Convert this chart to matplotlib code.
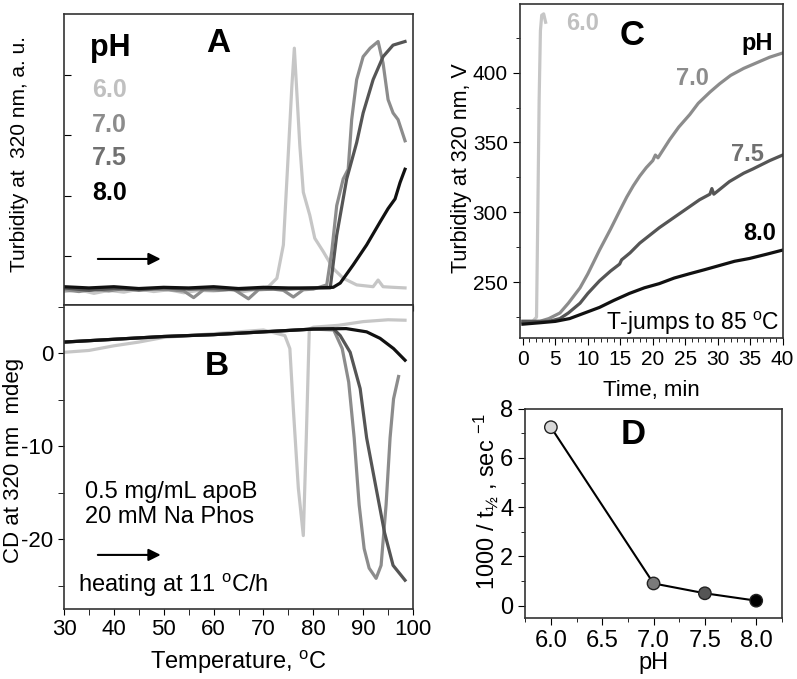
import numpy as np
import matplotlib
matplotlib.use("Agg")
import matplotlib.pyplot as plt
from matplotlib.ticker import MultipleLocator, FormatStrFormatter

plt.rcParams['font.family'] = ['Liberation Sans', 'DejaVu Sans']
plt.rcParams['mathtext.fontset'] = 'custom'
plt.rcParams['mathtext.rm'] = 'Liberation Sans'
plt.rcParams['mathtext.it'] = 'Liberation Sans:italic'
plt.rcParams['mathtext.bf'] = 'Liberation Sans:bold'
plt.rcParams['axes.unicode_minus'] = False

# colours per pH
ph_labels = ['6.0', '7.0', '7.5', '8.0']
line_colors = ['#c6c6c6', '#8c8c8c', '#555555', '#111111']
text_colors = ['#c0c0c0', '#8c8c8c', '#707070', '#000000']

# --- panel A: turbidity on heating (a.u.) ---
tA_60 = [30, 33, 36, 39, 42, 45, 48, 51, 54, 57, 60, 63, 66, 69, 71, 72.7, 74, 75,
         75.7, 76.2, 77.3, 78, 79.3, 80.3, 82, 84, 86, 88.7, 92, 93, 94, 96, 98.4]
A_60 = [0.42, 0.45, 0.39, 0.44, 0.41, 0.46, 0.42, 0.45, 0.40, 0.44, 0.43, 0.45, 0.42,
        0.46, 0.5, 0.64, 1.19, 2.72, 3.81, 4.44, 2.83, 2.06, 1.68, 1.3, 1.08, 0.8,
        0.64, 0.53, 0.5, 0.61, 0.5, 0.49, 0.48]
tA_70 = [30, 33, 36, 39, 42, 45, 48, 51, 54, 56, 58, 61, 64, 67, 69, 72, 74, 76, 78,
         80, 82.7, 83.7, 84.7, 86, 87, 87.7, 88.7, 90, 91.4, 93, 94, 95, 96, 97, 98.4]
A_70 = [0.45, 0.42, 0.46, 0.43, 0.47, 0.44, 0.46, 0.45, 0.43, 0.32, 0.45, 0.44, 0.46,
        0.3, 0.45, 0.46, 0.44, 0.33, 0.45, 0.46, 0.53, 1.08, 1.84, 2.28, 2.44, 3.26,
        3.92, 4.3, 4.44, 4.55, 4.19, 3.59, 3.37, 3.26, 2.91]
tA_75 = [30, 35, 40, 45, 50, 55, 60, 65, 70, 75, 80, 83.4, 84.7, 86.7, 88.7, 90, 92,
         94, 96, 98.4]
A_75 = [0.48, 0.44, 0.47, 0.45, 0.48, 0.46, 0.47, 0.45, 0.47, 0.46, 0.48, 0.48, 1.35,
        2.28, 2.88, 3.37, 3.92, 4.3, 4.49, 4.55]
tA_80 = [30, 35, 40, 45, 50, 55, 60, 65, 70, 75, 80, 84, 85.4, 88, 90.7, 93.4, 95,
         96.4, 97.4, 98.4]
A_80 = [0.5, 0.48, 0.5, 0.47, 0.49, 0.48, 0.5, 0.47, 0.49, 0.48, 0.48, 0.49, 0.56,
        0.86, 1.19, 1.57, 1.79, 1.95, 2.22, 2.44]

# --- panel B: CD at 320 nm (mdeg) ---
tB_60 = [30, 35, 40, 45, 50, 55, 60, 65, 70, 74.3, 75.3, 76, 77, 78, 78.6, 79.2,
         80, 85, 90, 95, 98.4]
B_60 = [0.1, 0.3, 0.8, 1.2, 1.7, 1.9, 2.1, 2.3, 2.5, 1.9, 0.5, -6, -14.5, -19.6,
        -9, 2.6, 2.8, 3.0, 3.4, 3.6, 3.55]
tB_70 = [30, 40, 50, 60, 70, 80, 84.1, 85.8, 87.1, 88.2, 89.2, 90.2, 91.2, 92.6,
         93.6, 94.6, 95.4, 96.1, 97.1]
B_70 = [1.2, 1.5, 1.8, 2.0, 2.3, 2.6, 2.5, 0.5, -3.1, -9.1, -16.3, -21, -23.1, -24.2,
        -22.8, -16.3, -9.1, -4.9, -2.5]
tB_75 = [30, 40, 50, 60, 70, 80, 84, 85.4, 87.4, 89.4, 90.7, 92.6, 94.3, 96, 98.4]
B_75 = [1.2, 1.5, 1.8, 2.0, 2.3, 2.6, 2.65, 1.9, 0.1, -3.8, -9.1, -14.5, -19.3, -22.8,
        -24.4]
tB_80 = [30, 40, 50, 60, 70, 80, 86.6, 90.7, 93.4, 96.1, 98.4]
B_80 = [1.2, 1.5, 1.8, 2.0, 2.3, 2.6, 2.65, 2.3, 1.6, 0.5, -0.75]

# --- panel C: T-jump kinetics at 85 C ---
tC_60 = [0, 1.5, 2.1, 2.3, 2.5, 2.7, 2.9, 3.2, 3.5]
C_60 = [222, 222, 225, 300, 380, 430, 441, 442, 436]
tC_70 = [0, 2.6, 4, 5.7, 7, 8.8, 10, 11.8, 13.5, 14.9, 16, 17, 18, 19, 20, 20.4,
         20.8, 22.6, 24, 25.7, 27, 28.8, 30.3, 32, 34, 36.5, 38, 40]
C_70 = [222, 222, 224, 228, 235, 246, 256, 273, 288, 301, 311, 319, 326, 332, 337,
        341, 339, 352, 361, 370, 378, 386, 392, 398, 403, 408, 411, 414]
tC_75 = [0, 2.6, 4, 5.7, 7, 8.8, 10, 11.8, 13.5, 14.9, 15.2, 16.5, 18, 21, 24.1,
         27.2, 28.8, 29.1, 29.4, 31.8, 34, 35.4, 38, 40]
C_75 = [222, 222, 222, 224, 228, 235, 242, 251, 258, 263, 266, 271, 278, 289, 299,
        309, 313, 317, 313, 322, 328, 331, 337, 341]
tC_80 = [0, 2.6, 5, 7.2, 9.5, 11.8, 14, 16.4, 18.7, 21, 23.3, 25.6, 28, 30.3, 32.6,
         34.9, 37.5, 40]
C_80 = [220, 221, 222, 224, 228, 232, 237, 242, 246, 249, 253, 256, 259, 262, 265,
        267, 270, 273]

# --- panel D: rate vs pH ---
pH_vals = [6.0, 7.0, 7.5, 8.0]
rate_vals = [7.25, 0.9, 0.5, 0.2]
marker_colors = ['#d8d8d8', '#7a7a7a', '#555555', '#000000']

fig = plt.figure(figsize=(7.97, 6.79), dpi=100)
axA = fig.add_axes([0.0803, 0.551, 0.4379, 0.428])
axB = fig.add_axes([0.0803, 0.103, 0.4379, 0.448], sharex=axA)
axC = fig.add_axes([0.652, 0.502, 0.330, 0.492])
axD = fig.add_axes([0.659, 0.090, 0.322, 0.308])

lw = 2.3

for t, v, c in zip([tA_60, tA_70, tA_75, tA_80], [A_60, A_70, A_75, A_80], line_colors):
    axA.plot(t, v, color=c, lw=lw)
for t, v, c in zip([tB_60, tB_70, tB_75, tB_80], [B_60, B_70, B_75, B_80], line_colors):
    axB.plot(t, v, color=c, lw=lw)
for t, v, c in zip([tC_60, tC_70, tC_75, tC_80], [C_60, C_70, C_75, C_80], line_colors):
    axC.plot(t, v, color=c, lw=lw)

axD.plot(pH_vals, rate_vals, color='black', lw=1.5, zorder=1)
axD.scatter(pH_vals, rate_vals, s=80, c=marker_colors, edgecolors='#222222',
            linewidths=1.0, zorder=2)

# panel A
axA.set_xlim(30, 100)
axA.set_ylim(0.2, 5.0)
axA.set_yticks([1, 2, 3, 4])
axA.tick_params(axis='y', direction='in', length=5, labelleft=False)
axA.tick_params(axis='x', direction='out', length=4, labelbottom=False)
axA.xaxis.set_major_locator(MultipleLocator(10))
axA.xaxis.set_minor_locator(MultipleLocator(5))
axA.tick_params(axis='x', which='minor', direction='out', length=4)
axA.set_ylabel('Turbidity at  320 nm, a. u.', fontsize=15)
axA.yaxis.set_label_coords(-0.1, 0.52)
axA.text(0.075, 0.883, 'pH', transform=axA.transAxes, fontsize=22, fontweight='bold',
         va='center', ha='left')
axA.text(0.441, 0.90, 'A', transform=axA.transAxes, fontsize=24, fontweight='bold',
         va='center', ha='center')
for lab, col, y in zip(ph_labels, text_colors, [0.739, 0.619, 0.505, 0.385]):
    axA.text(0.08, y, lab, transform=axA.transAxes, fontsize=18, fontweight='bold',
             color=col, va='center', ha='left')
axA.annotate('', xy=(0.285, 0.158), xytext=(0.089, 0.158), xycoords='axes fraction',
             arrowprops=dict(arrowstyle='-|>', color='black', lw=1.5, mutation_scale=18))

# panel B
axB.set_ylim(-27.5, 5.2)
axB.set_yticks([0, -10, -20])
axB.yaxis.set_minor_locator(MultipleLocator(5))
axB.tick_params(axis='both', which='both', direction='out', length=4, labelsize=16)
axB.set_xticks(range(30, 101, 10))
axB.set_xlabel('Temperature, $^{\\rm o}$C', fontsize=17)
axB.xaxis.set_label_coords(0.5, -0.13)
axB.set_ylabel('CD at 320 nm  mdeg', fontsize=16)
axB.yaxis.set_label_coords(-0.115, 0.49)
axB.text(0.438, 0.796, 'B', transform=axB.transAxes, fontsize=24, fontweight='bold',
         va='center', ha='center')
axB.text(0.06, 0.385, '0.5 mg/mL apoB', transform=axB.transAxes, fontsize=17,
         va='center', ha='left')
axB.text(0.06, 0.303, '20 mM Na Phos', transform=axB.transAxes, fontsize=17,
         va='center', ha='left')
axB.text(0.04, 0.079, 'heating at 11 $^{\\rm o}$C/h', transform=axB.transAxes,
         fontsize=17, va='center', ha='left')
axB.annotate('', xy=(0.285, 0.178), xytext=(0.089, 0.178), xycoords='axes fraction',
             arrowprops=dict(arrowstyle='-|>', color='black', lw=1.5, mutation_scale=18))

# panel C
axC.set_xlim(-0.5, 40)
axC.set_ylim(210, 449)
axC.xaxis.set_major_locator(MultipleLocator(5))
axC.xaxis.set_minor_locator(MultipleLocator(1))
axC.set_yticks([250, 300, 350, 400])
axC.yaxis.set_minor_locator(MultipleLocator(25))
axC.tick_params(axis='both', which='major', direction='out', length=5, labelsize=15)
axC.tick_params(axis='both', which='minor', direction='out', length=3)
axC.set_xlabel('Time, min', fontsize=16)
axC.xaxis.set_label_coords(0.5, -0.125)
axC.set_ylabel('Turbidity at 320 nm, V', fontsize=15.5)
axC.yaxis.set_label_coords(-0.18, 0.51)
axC.text(0.24, 0.943, '6.0', transform=axC.transAxes, fontsize=17, fontweight='bold',
         color=text_colors[0], va='center', ha='center')
axC.text(0.426, 0.907, 'C', transform=axC.transAxes, fontsize=25, fontweight='bold',
         va='center', ha='center')
axC.text(0.965, 0.883, 'pH', transform=axC.transAxes, fontsize=17, fontweight='bold',
         va='center', ha='right')
axC.text(0.658, 0.778, '7.0', transform=axC.transAxes, fontsize=17, fontweight='bold',
         color=text_colors[1], va='center', ha='center')
axC.text(0.867, 0.55, '7.5', transform=axC.transAxes, fontsize=17, fontweight='bold',
         color=text_colors[2], va='center', ha='center')
axC.text(0.913, 0.314, '8.0', transform=axC.transAxes, fontsize=17, fontweight='bold',
         color=text_colors[3], va='center', ha='center')
axC.text(0.99, 0.045, 'T-jumps to 85 $^{\\rm o}$C', transform=axC.transAxes,
         fontsize=16.5, va='center', ha='right')

# panel D
axD.set_xlim(5.75, 8.25)
axD.set_ylim(-0.5, 8)
axD.xaxis.set_major_locator(MultipleLocator(0.5))
axD.xaxis.set_minor_locator(MultipleLocator(0.25))
axD.yaxis.set_major_locator(MultipleLocator(2))
axD.yaxis.set_minor_locator(MultipleLocator(1))
axD.xaxis.set_major_formatter(FormatStrFormatter('%.1f'))
axD.tick_params(axis='both', which='major', direction='out', length=5, labelsize=17)
axD.tick_params(axis='both', which='minor', direction='out', length=3)
axD.set_xlabel('pH', fontsize=17)
axD.xaxis.set_label_coords(0.5, -0.165)
axD.set_ylabel('1000 / t$_{½}$ , sec $^{-1}$', fontsize=17)
axD.yaxis.set_label_coords(-0.095, 0.555)
axD.text(0.42, 0.876, 'D', transform=axD.transAxes, fontsize=25, fontweight='bold',
         va='center', ha='center')

for ax in (axA, axB, axC, axD):
    for s in ax.spines.values():
        s.set_linewidth(1.2)
        s.set_color('#333333')

fig.savefig('out.png', dpi=100)
